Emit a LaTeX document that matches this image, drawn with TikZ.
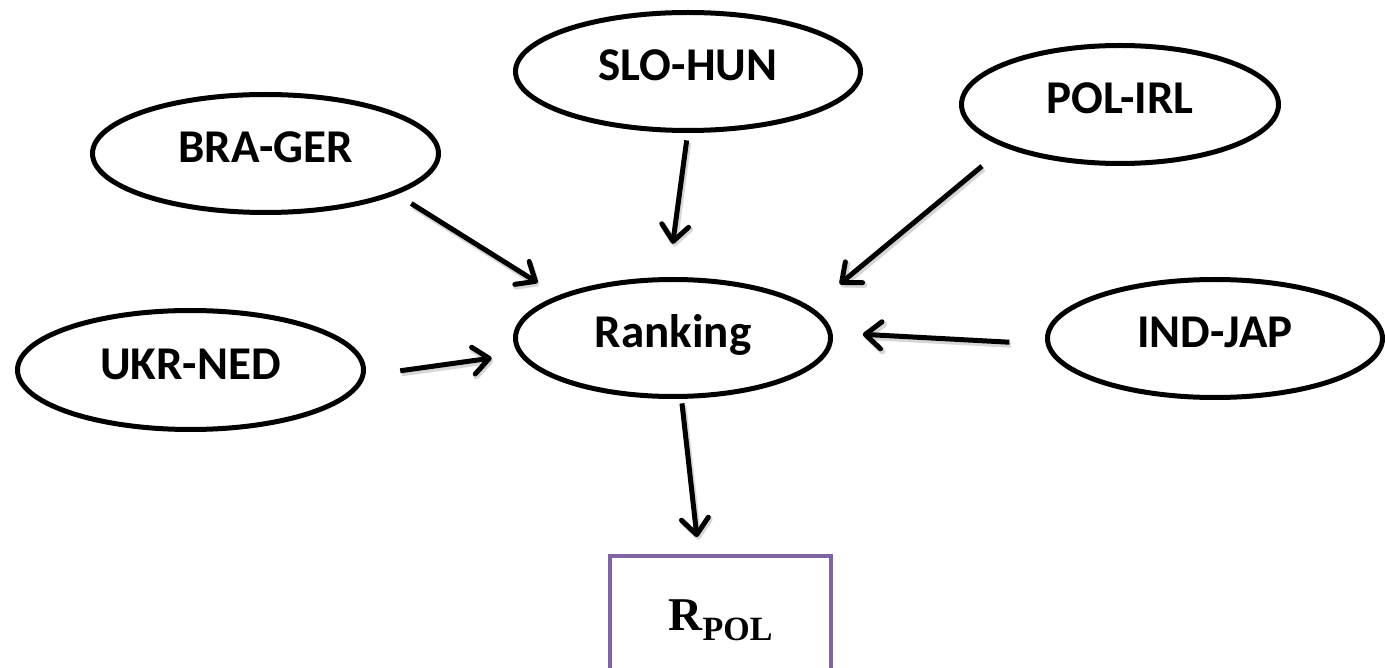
\documentclass[tikz,border=0pt]{standalone}
\usepackage{fontspec}
\setmainfont{Carlito}
\newfontfamily\rfont{Liberation Serif}
\usetikzlibrary{arrows.meta,calc,shapes.geometric}
\definecolor{boxpurple}{HTML}{8064A2}
\begin{document}
\begin{tikzpicture}[x=1pt,y=-1pt,
  oval/.style={ellipse,draw=black,line width=5pt,inner sep=0pt,outer sep=0pt,
    font=\fontsize{47}{50}\selectfont\bfseries,
    text height=30pt,text depth=11pt},
  resultbox/.style={rectangle,draw=boxpurple,line width=4.5pt,inner sep=0pt,outer sep=0pt,
    minimum width=221pt,minimum height=128pt},
  link/.style={line width=5pt,-{Straight Barb[length=16pt,width=27pt,round]},
    preaction={draw=black!35,opacity=0.45,line width=6pt,
      transform canvas={xshift=1.5pt,yshift=-2.5pt}}}]
\clip (0,0) rectangle (1385,668);
\useasboundingbox (0,0) rectangle (1385,668);
\fill[white] (0,0) rectangle (1385,668);

% inputs and the central ranking
\node[oval,minimum width=346pt,minimum height=118pt] (bra)  at (265.5,153.5) {BRA-GER};
\node[oval,minimum width=345pt,minimum height=118pt] (slo)  at (688,71.5)    {SLO-HUN};
\node[oval,minimum width=317pt,minimum height=118pt] (pol)  at (1120,104.5)  {POL-IRL};
\node[oval,minimum width=346pt,minimum height=119pt] (ukr)  at (190.5,370)   {UKR-NED};
\node[oval,minimum width=315pt,minimum height=117pt] (rank) at (673,338)     {Ranking};
\node[oval,minimum width=335pt,minimum height=118pt] (ind)  at (1215,338.5)  {IND-JAP};

% result box
\node[resultbox] (res) at (720.5,620)
  {\rfont\bfseries{\fontsize{47}{50}\selectfont R}\raisebox{-10pt}{\fontsize{34}{36}\selectfont POL}};

% connectors
\draw[link,shorten <=20pt,shorten >=27pt] (bra.-17.4) -- (rank.160.5);
\draw[link,shorten <=10pt,shorten >=36pt] (slo.-90) -- (rank.95);
\draw[link,shorten <=32pt,shorten >=39pt] (pol.200.8) -- (rank.12.3);
\draw[link,shorten <=38pt,shorten >=30pt] (ukr.-2.4) -- (rank.186.3);
\draw[link,shorten <=39pt,shorten >=33pt] (ind.182) -- (rank.2.1);
\draw[link,shorten <=7pt,shorten >=19pt] (rank.-82) -- ($(res.north west)!0.403!(res.north east)$);
\end{tikzpicture}
\end{document}
